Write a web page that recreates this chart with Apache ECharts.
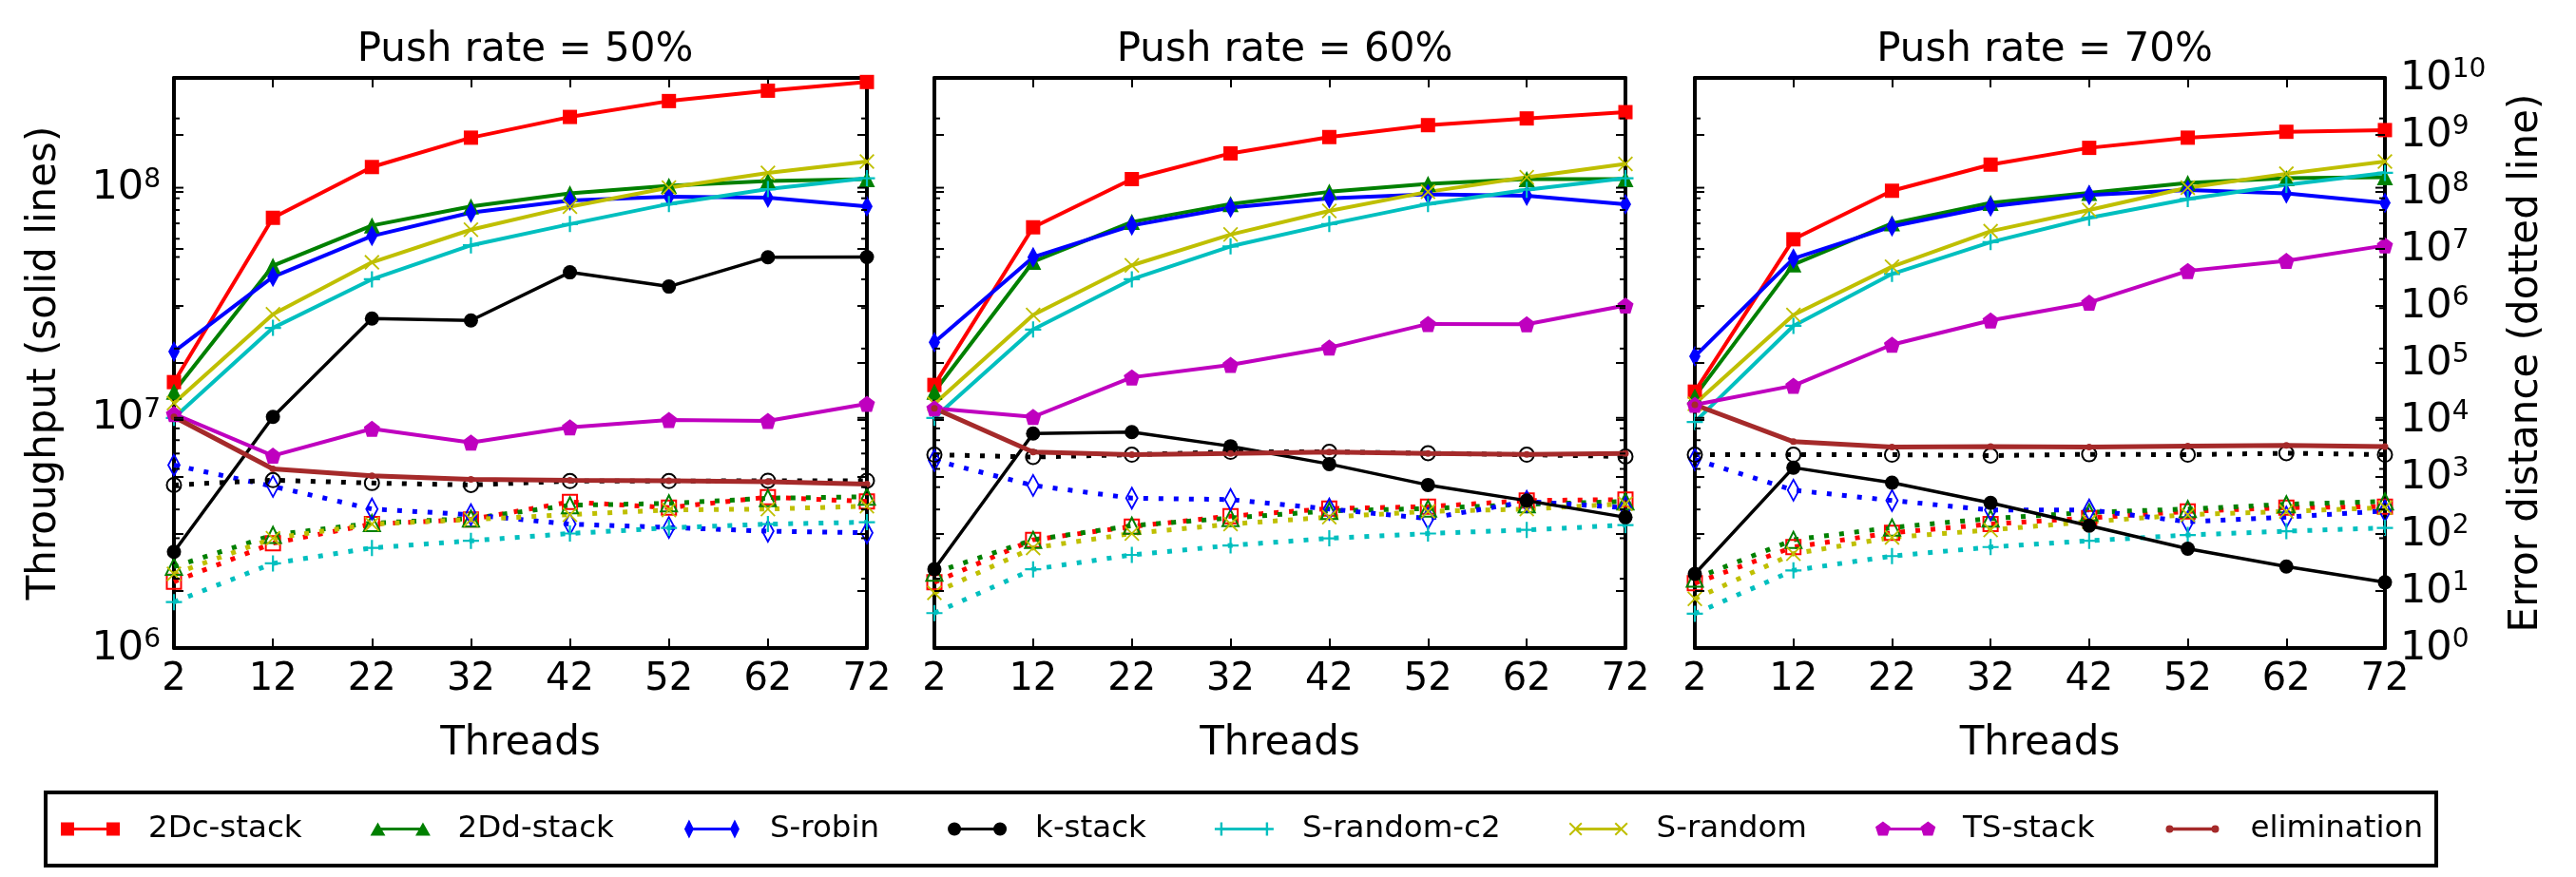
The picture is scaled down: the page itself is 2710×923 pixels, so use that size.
<!DOCTYPE html>
<html>
<head>
<meta charset="utf-8">
<script src="https://cdn.jsdelivr.net/npm/echarts@6/dist/echarts.min.js"></script>
<style>
html,body{margin:0;padding:0;background:#fff}
#chart{width:2710px;height:923px}
</style>
</head>
<body>
<div id="chart"></div>
<script>
// ---- data ----
var threads = [2, 12, 22, 32, 42, 52, 62, 72];
var pushRates = ['50%', '60%', '70%'];
var names = ['2Dc-stack', '2Dd-stack', 'S-robin', 'k-stack', 'S-random-c2', 'S-random', 'TS-stack', 'elimination'];

// throughput (solid lines), one row per push rate
var tp2Dc = [
    [1.43e7, 7.4e7, 1.23e8, 1.65e8, 2.03e8, 2.38e8, 2.64e8, 2.88e8],
    [1.39e7, 6.73e7, 1.09e8, 1.41e8, 1.66e8, 1.87e8, 2.0e8, 2.13e8],
    [1.3e7, 5.97e7, 9.7e7, 1.26e8, 1.49e8, 1.65e8, 1.75e8, 1.78e8]
];
var tp2Dd = [
    [1.3e7, 4.58e7, 6.85e7, 8.3e7, 9.45e7, 1.02e8, 1.07e8, 1.09e8],
    [1.3e7, 4.77e7, 7.1e7, 8.5e7, 9.6e7, 1.04e8, 1.09e8, 1.09e8],
    [1.24e7, 4.64e7, 7.0e7, 8.6e7, 9.5e7, 1.05e8, 1.1e8, 1.11e8]
];
var tpSrobin = [
    [1.94e7, 4.1e7, 6.17e7, 7.8e7, 8.8e7, 9.15e7, 9.06e7, 8.3e7],
    [2.13e7, 4.99e7, 6.85e7, 8.2e7, 9.0e7, 9.36e7, 9.23e7, 8.47e7],
    [1.85e7, 4.92e7, 6.79e7, 8.3e7, 9.3e7, 9.77e7, 9.45e7, 8.6e7]
];
var tpKstack = [
    [2.62e6, 1.01e7, 2.7e7, 2.65e7, 4.29e7, 3.72e7, 4.99e7, 5.0e7],
    [2.2e6, 8.55e6, 8.67e6, 7.53e6, 6.3e6, 5.11e6, 4.37e6, 3.7e6],
    [2.1e6, 6.08e6, 5.23e6, 4.27e6, 3.4e6, 2.7e6, 2.26e6, 1.93e6]
];
var tpSrandomC2 = [
    [1.0e7, 2.46e7, 4.0e7, 5.62e7, 6.95e7, 8.5e7, 9.86e7, 1.1e8],
    [1.0e7, 2.42e7, 4.0e7, 5.56e7, 6.95e7, 8.5e7, 9.8e7, 1.1e8],
    [9.6e6, 2.51e7, 4.22e7, 5.8e7, 7.4e7, 8.93e7, 1.03e8, 1.16e8]
];
var tpSrandom = [
    [1.16e7, 2.82e7, 4.74e7, 6.57e7, 8.28e7, 1.0e8, 1.16e8, 1.3e8],
    [1.15e7, 2.8e7, 4.6e7, 6.26e7, 7.93e7, 9.6e7, 1.11e8, 1.27e8],
    [1.15e7, 2.8e7, 4.54e7, 6.47e7, 8.0e7, 1.0e8, 1.15e8, 1.3e8]
];
var tpTSstack = [
    [1.04e7, 6.85e6, 8.97e6, 7.82e6, 9.1e6, 9.8e6, 9.7e6, 1.15e7],
    [1.1e7, 1.01e7, 1.5e7, 1.7e7, 2.02e7, 2.56e7, 2.55e7, 3.08e7],
    [1.14e7, 1.38e7, 2.08e7, 2.65e7, 3.17e7, 4.35e7, 4.81e7, 5.61e7]
];
var tpElimination = [
    [1.01e7, 6.0e6, 5.6e6, 5.41e6, 5.36e6, 5.33e6, 5.28e6, 5.16e6],
    [1.1e7, 7.1e6, 6.92e6, 7.0e6, 7.1e6, 7.0e6, 6.93e6, 7.0e6],
    [1.14e7, 7.88e6, 7.46e6, 7.5e6, 7.46e6, 7.54e6, 7.6e6, 7.5e6]
];

// error distance (dotted lines)
var er2Dc = [
    [14.5, 69, 149, 180, 365, 290, 442, 372],
    [14.2, 79, 135, 206, 279, 302, 386, 402],
    [13.7, 59, 105, 149, 191, 249, 290, 302]
];
var er2Dd = [
    [26.7, 96, 155, 187, 319, 344, 425, 450],
    [21, 79, 140, 191, 254, 279, 332, 372],
    [16.5, 79, 130, 187, 240, 274, 332, 372]
];
var erSrobin = [
    [1618, 685, 274, 218, 149, 130, 112, 105],
    [1960, 712, 425, 402, 274, 187, 372, 290],
    [2033, 588, 386, 264, 264, 164, 198, 254]
];
var erKstack = [
    [724, 879, 783, 725, 846, 846, 861, 860],
    [2460, 2237, 2460, 2760, 2760, 2610, 2460, 2280],
    [2460, 2460, 2460, 2370, 2500, 2460, 2610, 2460]
];
var erSrandomC2 = [
    [6.4, 30.5, 57, 76, 102, 128, 149, 161],
    [4.1, 24, 43, 63, 84, 102, 118, 143],
    [4.0, 23, 41, 59, 76, 96, 112, 128]
];
var erSrandom = [
    [20, 84, 149, 180, 218, 264, 274, 307],
    [9.3, 57, 102, 149, 198, 249, 274, 338],
    [7.3, 45, 87, 118, 164, 218, 249, 290]
];

var throughput = [tp2Dc, tp2Dd, tpSrobin, tpKstack, tpSrandomC2, tpSrandom, tpTSstack, tpElimination];
var errors = [er2Dc, er2Dd, erSrobin, erKstack, erSrandomC2, erSrandom, null, null];

// tick values
var thrMajor = [1e6, 1e7, 1e8];
var thrMinor = [2e6, 3e6, 4e6, 5e6, 6e6, 7e6, 8e6, 9e6, 2e7, 3e7, 4e7, 5e7, 6e7, 7e7, 8e7, 9e7, 2e8];
var errMajor = [1e1, 1e2, 1e3, 1e4, 1e5, 1e6, 1e7, 1e8, 1e9];

// ---- styles ----
var FONT = 'DejaVu Sans';
var colors = ['#ff0000', '#008000', '#0000ff', '#000000', '#00bfbf', '#bfbf00', '#bf00bf', '#a52a2a'];
var PLUS = 'path://M-1.3,-10H1.3V-1.3H10V1.3H1.3V10H-1.3V1.3H-10V-1.3H-1.3Z';
var CROSS = 'path://M-10,-8.4L-8.4,-10L0,-1.6L8.4,-10L10,-8.4L1.6,0L10,8.4L8.4,10L0,1.6L-8.4,10L-10,8.4L-1.6,0Z';
var PENTA = 'path://M0,-10L9.51,-3.09L5.88,8.09L-5.88,8.09L-9.51,-3.09Z';
var THIN_DIAMOND = 'path://M0,-10L6,0L0,10L-6,0Z';
var symbols = ['rect', 'triangle', THIN_DIAMOND, 'circle', PLUS, CROSS, PENTA, 'circle'];
var symSizes = [15, 17, [12, 22], 15, 17, 16, 17, 7];
var lineWidths = [4, 4, 4, 3.5, 4, 4, 4, 5];
var filledMarker = [false, false, false, false, true, true, false, false];

// legend handle icons: line with a marker at each end (all drawn clockwise)
function markerAt(i, cx) {
    switch (i) {
        case 0: return 'M' + (cx - 7) + ',3h14v14h-14Z';
        case 1: return 'M' + (cx - 8) + ',17L' + cx + ',3L' + (cx + 8) + ',17Z';
        case 2: return 'M' + cx + ',0L' + (cx + 5) + ',10L' + cx + ',20L' + (cx - 5) + ',10Z';
        case 3: return 'M' + (cx - 7) + ',10a7,7 0 1,1 14,0a7,7 0 1,1 -14,0Z';
        case 4: return 'M' + (cx - 1.2) + ',3h2.4v5.8h5.8v2.4h-5.8v5.8h-2.4v-5.8h-5.8v-2.4h5.8Z';
        case 5: return 'M' + (cx - 7) + ',4.4L' + (cx - 5.6) + ',3L' + cx + ',8.6L' + (cx + 5.6) + ',3L' + (cx + 7) + ',4.4L' + (cx + 1.4) + ',10L' + (cx + 7) + ',15.6L' + (cx + 5.6) + ',17L' + cx + ',11.4L' + (cx - 5.6) + ',17L' + (cx - 7) + ',15.6L' + (cx - 1.4) + ',10Z';
        case 6: return 'M' + cx + ',2L' + (cx + 8) + ',7.8L' + (cx + 5) + ',17L' + (cx - 5) + ',17L' + (cx - 8) + ',7.8Z';
        default: return 'M' + (cx - 4) + ',10a4,4 0 1,1 8,0a4,4 0 1,1 -8,0Z';
    }
}
function handleIcon(i) {
    var bar = i === 7 ? 'M7,8.3H55V11.7H7Z' : 'M7,8.5H55V11.5H7Z';
    return 'path://M0,0L0,0M87,20L87,20' + bar + markerAt(i, 7) + markerAt(i, 55);
}

function powLabel(v) {
    var e = Math.log10(v);
    var r = Math.round(e);
    if (Math.abs(e - r) > 1e-6) return '';
    return '{b|10}{s|' + r + '}';
}
var powRich = {
    b: {fontSize: 43, fontFamily: FONT, color: '#000', lineHeight: 44, verticalAlign: 'bottom'},
    s: {fontSize: 28, fontFamily: FONT, color: '#000', lineHeight: 30, verticalAlign: 'top'}
};

function tickSeries(xi, yi, majors, minors) {
    var d = [];
    majors.forEach(function (v) { d.push([2, v, 1]); });
    minors.forEach(function (v) { d.push([2, v, 0]); });
    return {
        type: 'custom', xAxisIndex: xi, yAxisIndex: yi, silent: true, z: 5,
        data: d,
        renderItem: function (params, api) {
            var a = api.coord([2, api.value(1)]);
            var b = api.coord([72, api.value(1)]);
            var len = api.value(2) ? 10 : 6;
            return {
                type: 'group',
                children: [
                    {type: 'line', shape: {x1: a[0], y1: a[1], x2: a[0] + len, y2: a[1]}, style: {stroke: '#000', lineWidth: 2}},
                    {type: 'line', shape: {x1: b[0], y1: b[1], x2: b[0] - len, y2: b[1]}, style: {stroke: '#000', lineWidth: 2}}
                ]
            };
        }
    };
}

var gridPos = [{left: 183, width: 729}, {left: 983, width: 727}, {left: 1783, width: 726}];
var grids = [], xAxes = [], yAxes = [], titles = [], series = [];
var axisLine = {show: true, onZero: false, lineStyle: {color: '#000', width: 4}};

gridPos.forEach(function (g, p) {
    grids.push({left: g.left, top: 82, width: g.width, height: 600});
    titles.push({
        text: 'Push rate = ' + pushRates[p],
        left: g.left + g.width / 2, top: 27, textAlign: 'center',
        textStyle: {fontFamily: FONT, fontSize: 42, fontWeight: 'normal', color: '#000'}
    });
    xAxes.push({
        type: 'value', gridIndex: p, min: 2, max: 72, interval: 10, position: 'bottom',
        name: 'Threads', nameLocation: 'middle', nameGap: 80,
        nameTextStyle: {fontFamily: FONT, fontSize: 42, color: '#000'},
        axisLine: axisLine,
        axisTick: {show: true, inside: true, length: 10, lineStyle: {color: '#000', width: 2}},
        axisLabel: {fontFamily: FONT, fontSize: 40, color: '#000', margin: 14},
        splitLine: {show: false}
    });
    xAxes.push({
        type: 'value', gridIndex: p, min: 2, max: 72, interval: 10, position: 'top',
        axisLine: axisLine,
        axisTick: {show: true, inside: true, length: 10, lineStyle: {color: '#000', width: 2}},
        axisLabel: {show: false}, splitLine: {show: false}
    });
    yAxes.push({
        type: 'log', gridIndex: p, min: 1e6, max: 3e8, logBase: 10, interval: 1, position: 'left',
        name: p === 0 ? 'Throughput (solid lines)' : '', nameLocation: 'middle', nameGap: 115, nameRotate: 90,
        nameTextStyle: {fontFamily: FONT, fontSize: 42, color: '#000'},
        axisLine: axisLine, axisTick: {show: false}, splitLine: {show: false}, minorTick: {show: false},
        axisLabel: {show: p === 0, margin: 14, formatter: powLabel, rich: powRich}
    });
    yAxes.push({
        type: 'log', gridIndex: p, min: 1, max: 1e10, logBase: 10, interval: 1, position: 'right',
        name: p === 2 ? 'Error distance (dotted line)' : '', nameLocation: 'middle', nameGap: 128, nameRotate: 90,
        nameTextStyle: {fontFamily: FONT, fontSize: 42, color: '#000'},
        axisLine: axisLine, axisTick: {show: false}, splitLine: {show: false}, minorTick: {show: false},
        axisLabel: {show: p === 2, margin: 16, formatter: powLabel, rich: powRich}
    });

    // dotted error lines first (drawn below)
    errors.forEach(function (arr, i) {
        if (!arr) return;
        var c = colors[i];
        series.push({
            name: names[i] + ' error', type: 'line', xAxisIndex: 2 * p, yAxisIndex: 2 * p + 1,
            data: threads.map(function (t, k) { return [t, arr[p][k]]; }),
            symbol: symbols[i], symbolSize: symSizes[i], showSymbol: true,
            lineStyle: {color: c, width: 5, type: [5, 11]},
            itemStyle: filledMarker[i] ? {color: c} : {color: 'rgba(255,255,255,0)', borderColor: c, borderWidth: 2},
            z: 2, animation: false
        });
    });
    throughput.forEach(function (arr, i) {
        var c = colors[i];
        series.push({
            name: names[i], type: 'line', xAxisIndex: 2 * p, yAxisIndex: 2 * p,
            data: threads.map(function (t, k) { return [t, arr[p][k]]; }),
            symbol: symbols[i], symbolSize: symSizes[i], showSymbol: true,
            lineStyle: {color: c, width: lineWidths[i]},
            itemStyle: {color: c, borderWidth: 0},
            z: 3, animation: false
        });
    });
    series.push(tickSeries(2 * p, 2 * p, thrMajor, thrMinor));
    series.push(tickSeries(2 * p, 2 * p + 1, errMajor, []));
});

var chart = echarts.init(document.getElementById('chart'));
chart.setOption({
    backgroundColor: '#fff',
    animation: false,
    title: titles,
    grid: grids,
    xAxis: xAxes,
    yAxis: yAxes,
    legend: {
        left: 48, top: 834,
        padding: [22, 14, 22, 16],
        borderColor: '#000', borderWidth: 4,
        itemWidth: 87, itemHeight: 20, itemGap: 72,
        textStyle: {fontFamily: FONT, fontSize: 32.5, color: '#000'},
        itemStyle: {borderWidth: 0},
        data: names.map(function (n, i) { return {name: n, icon: handleIcon(i)}; })
    },
    series: series
});
</script>
</body>
</html>
